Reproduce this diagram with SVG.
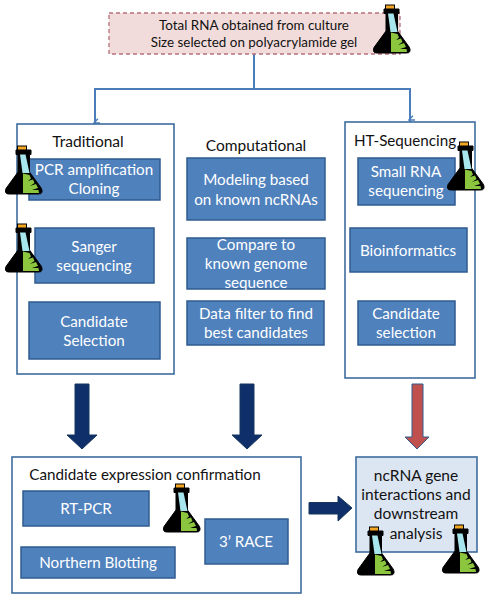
<svg xmlns="http://www.w3.org/2000/svg" width="490" height="598" viewBox="0 0 490 598">
<style>
text{font-family:Lato,"Liberation Sans",sans-serif;text-anchor:middle}
.w{fill:#fff;font-size:15.200px}
.k{fill:#111;font-size:15.500px}
.t{fill:#111;font-size:13.400px}
.h{fill:#111;font-size:15.200px}
.b{fill:#4f81bd;stroke:#2f5b8f;stroke-width:1.5}
.o{fill:#fff;stroke:#3f6d9e;stroke-width:1.6}
.c{fill:none;stroke:#4a7ebb;stroke-width:2}
</style>
<defs>
<marker id="ah" markerWidth="12" markerHeight="10" refX="7" refY="7" orient="auto-start-reverse" markerUnits="userSpaceOnUse" viewBox="0 0 14 14"><path d="M1 3L7 8.500L13 3M7 0V8.500" fill="none" stroke="#4a7ebb" stroke-width="2"/></marker>
<symbol id="flask" viewBox="0 0 38 49" width="38" height="49" overflow="visible">
<rect x="12.500" y="0" width="9" height="5" fill="#f5a623" stroke="#000" stroke-width="1"/>
<path d="M11 4H26V8.500H24.500V26L36.500 42.500Q38.500 48 33.500 48H4Q-1 48 1 42.500L13 26V8.500H11Z" fill="#000" stroke="#000" stroke-linejoin="round"/>
<path d="M15 8.500H20.500L24.500 27H17.500Z" fill="#a8e6ee"/>
<path d="M18 27.500L24.500 29L26 32.500L23 35L28 33.500L29.500 37L25 40L31 38L33 42L27 44L33.500 44L34 47H18Z" fill="#8cc63f"/>
</symbol>
</defs>
<g id="connectors">
<path class="c" d="M254 54V89H95V123" marker-end="url(#ah)"/>
<path class="c" d="M254 89H410V120" marker-end="url(#ah)"/>
<path d="M75 384H89V435H97L82 449L67 435H75Z" fill="#0f2f6b" stroke="#17375e"/>
<path d="M240 384H254V435H262L247 449L232 435H240Z" fill="#0f2f6b" stroke="#17375e"/>
<path d="M412 384H423V437H429L417 449L405 437H412Z" fill="#c0504d" stroke="#2f5b8f"/>
<path d="M309 502.500H338V496L352 508L338 521V514H309Z" fill="#0f2f6b" stroke="#17375e"/>
</g>
<g id="source">
<rect x="109" y="13" width="291" height="41" fill="#f2dcdb" stroke="#b5707c" stroke-width="1.300" stroke-dasharray="4 3"/>
<text class="t" x="254" y="30">Total RNA obtained from culture</text>
<text class="t" x="254" y="47">Size selected on polyacrylamide gel</text>
<use href="#flask" x="373" y="5"/>
</g>
<g id="traditional">
<rect class="o" x="17" y="124" width="157" height="250"/>
<text class="k" x="88" y="147">Traditional</text>
</g>
<g id="pcr">
<rect class="b" x="29" y="159" width="131" height="41"/>
<text class="w" x="94" y="175">PCR amplification</text>
<text class="w" x="94" y="194">Cloning</text>
<use href="#flask" x="5" y="146"/>
</g>
<g id="sanger">
<rect class="b" x="35" y="228" width="119" height="55"/>
<text class="w" x="94" y="252">Sanger</text>
<text class="w" x="94" y="271">sequencing</text>
<use href="#flask" x="5" y="224"/>
</g>
<g id="candidate-selection-1">
<rect class="b" x="29" y="302" width="131" height="57"/>
<text class="w" x="94" y="327">Candidate</text>
<text class="w" x="94" y="346">Selection</text>
</g>
<g id="computational">
<text class="k" x="256" y="151">Computational</text>
</g>
<g id="modeling">
<rect class="b" x="187" y="158" width="138" height="62"/>
<text class="w" x="256" y="185">Modeling based</text>
<text class="w" x="256" y="205">on known ncRNAs</text>
</g>
<g id="compare">
<rect class="b" x="187" y="238" width="138" height="51"/>
<text class="w" x="256" y="250">Compare to</text>
<text class="w" x="256" y="269">known genome</text>
<text class="w" x="256" y="288">sequence</text>
</g>
<g id="filter">
<rect class="b" x="187" y="301" width="137" height="44"/>
<text class="w" x="256" y="319">Data filter to find</text>
<text class="w" x="256" y="338">best candidates</text>
</g>
<g id="ht-sequencing">
<rect class="o" x="345" y="122" width="130" height="256"/>
<text class="h" x="405" y="146">HT-Sequencing</text>
</g>
<g id="small-rna">
<rect class="b" x="358" y="158" width="97" height="47"/>
<text class="w" x="406" y="177">Small RNA</text>
<text class="w" x="406" y="196">sequencing</text>
<use href="#flask" x="447" y="142"/>
</g>
<g id="bioinformatics">
<rect class="b" x="350" y="228" width="117" height="44"/>
<text class="w" x="408" y="256">Bioinformatics</text>
</g>
<g id="candidate-selection-2">
<rect class="b" x="358" y="301" width="97" height="44"/>
<text class="w" x="406" y="319">Candidate</text>
<text class="w" x="406" y="338">selection</text>
</g>
<g id="confirmation">
<rect class="o" x="12" y="457" width="289" height="136"/>
<text class="h" x="145" y="480">Candidate expression confirmation</text>
<use href="#flask" x="163" y="484"/>
</g>
<g id="rt-pcr">
<rect class="b" x="23" y="491" width="126" height="35"/>
<text class="w" x="86" y="514">RT-PCR</text>
</g>
<g id="northern">
<rect class="b" x="21" y="547" width="154" height="31"/>
<text class="w" x="98" y="568">Northern Blotting</text>
</g>
<g id="race">
<rect class="b" x="205" y="519" width="83" height="45"/>
<text class="w" x="246" y="547">3’ RACE</text>
</g>
<g id="ncrna">
<rect x="356" y="457" width="121" height="95" fill="#dce6f2" stroke="#3f6d9e" stroke-width="1.600"/>
<text class="k" x="416" y="481">ncRNA gene</text>
<text class="k" x="416" y="500">interactions and</text>
<text class="k" x="416" y="519">downstream</text>
<text class="k" x="416" y="539">analysis</text>
<use href="#flask" x="357" y="527"/>
<use href="#flask" x="442" y="525"/>
</g>
</svg>
